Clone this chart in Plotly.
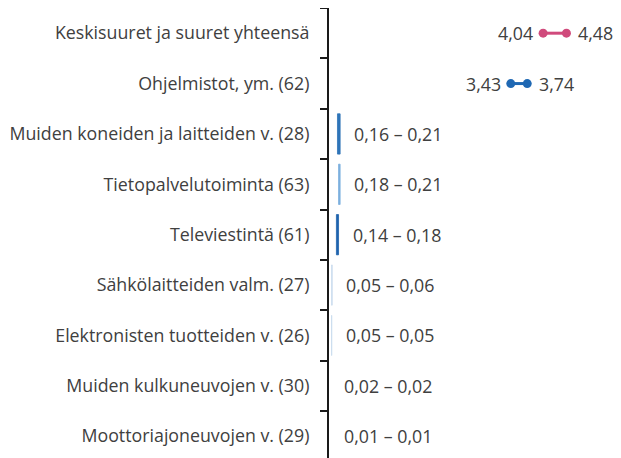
import plotly.graph_objects as go

categories = [
    "Keskisuuret ja suuret yhteensä",
    "Ohjelmistot, ym. (62)",
    "Muiden koneiden ja laitteiden v. (28)",
    "Tietopalvelutoiminta (63)",
    "Televiestintä (61)",
    "Sähkölaitteiden valm. (27)",
    "Elektronisten tuotteiden v. (26)",
    "Muiden kulkuneuvojen v. (30)",
    "Moottoriajoneuvojen v. (29)",
]
low_values = [4.04, 3.43, 0.16, 0.18, 0.14, 0.05, 0.05, 0.02, 0.01]
high_values = [4.48, 3.74, 0.21, 0.21, 0.18, 0.06, 0.05, 0.02, 0.01]
row_colors = ["#d04a7c", "#1f68b3", "#2e74b8", "#7eb0de", "#1f63ad",
              "#c8daee", "#c8daee", "rgba(0,0,0,0)", "rgba(0,0,0,0)"]

FONT = "Open Sans"
TXT = "#404040"
FS = 17.8


def fmt(v):
    return f"{v:.2f}".replace(".", ",")


fig = go.Figure()

# Dumbbells for the large rows
for i in range(2):
    fig.add_trace(go.Scatter(
        x=[low_values[i], high_values[i]],
        y=[categories[i], categories[i]],
        mode="lines+markers",
        line=dict(color=row_colors[i], width=3),
        marker=dict(color=row_colors[i], size=9),
        cliponaxis=False,
        showlegend=False,
        hoverinfo="skip",
    ))
    fig.add_annotation(
        x=low_values[i], y=categories[i], text=fmt(low_values[i]),
        showarrow=False, xanchor="right", yanchor="middle", xshift=-8,
        font=dict(family=FONT, size=FS, color=TXT),
    )
    fig.add_annotation(
        x=high_values[i], y=categories[i], text=fmt(high_values[i]),
        showarrow=False, xanchor="left", yanchor="middle", xshift=10,
        font=dict(family=FONT, size=FS, color=TXT),
    )

# Thin range bars for small rows
small = range(2, len(categories))
fig.add_trace(go.Bar(
    y=[categories[i] for i in small],
    x=[high_values[i] - low_values[i] for i in small],
    base=[low_values[i] for i in small],
    orientation="h",
    width=0.8,
    marker=dict(color=[row_colors[i] for i in small],
                line=dict(color=[row_colors[i] for i in small], width=0.8)),
    showlegend=False,
    hoverinfo="skip",
))

for i in small:
    fig.add_annotation(
        x=high_values[i], y=categories[i],
        text=f"{fmt(low_values[i])} – {fmt(high_values[i])}",
        showarrow=False, xanchor="left", yanchor="middle", xshift=12,
        font=dict(family=FONT, size=FS, color=TXT),
    )

fig.update_layout(
    width=613, height=450,
    margin=dict(l=321, r=0, t=0, b=0),
    paper_bgcolor="white", plot_bgcolor="white",
    font=dict(family=FONT, size=FS, color=TXT),
)
fig.update_xaxes(range=[0, 292 / 53], visible=False, showgrid=False, zeroline=False)
fig.update_yaxes(
    type="category",
    categoryorder="array", categoryarray=categories,
    range=[8.433, -0.5],
    showline=True, linecolor="#1a1a1a", linewidth=2,
    ticks="outside", tickson="boundaries", ticklen=7, tickwidth=2, tickcolor="#1a1a1a",
    ticklabelstandoff=14,
    tickfont=dict(family=FONT, size=FS, color=TXT),
    showgrid=False, zeroline=False, automargin=False,
)

fig.write_html("out.html")
